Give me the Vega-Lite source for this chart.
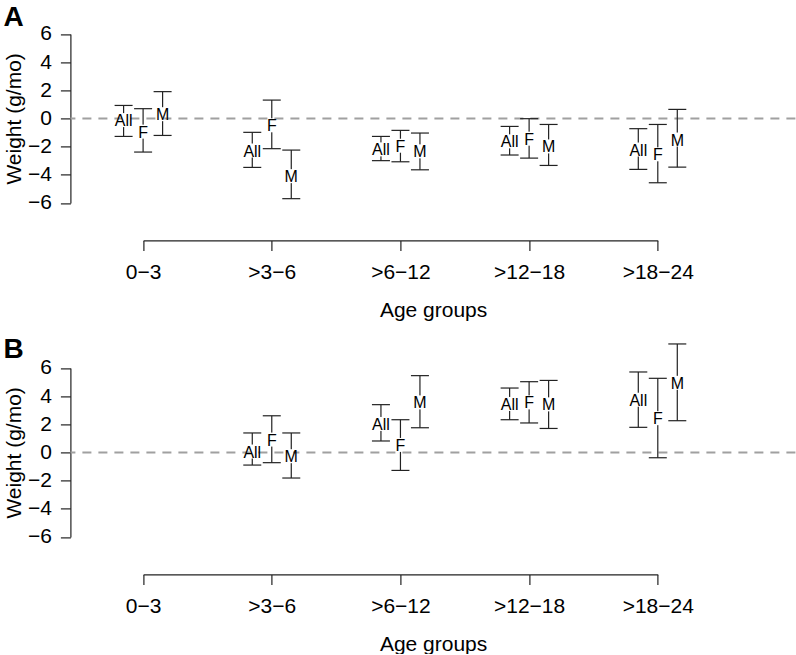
{
  "$schema": "https://vega.github.io/schema/vega-lite/v6.json",
  "autosize": {"type": "pad"},
  "padding": {"left": 3.4, "top": 4.4, "right": 0, "bottom": 0},
  "background": "white",
  "spacing": 16,
  "config": {
    "view": {"stroke": null},
    "font": "Liberation Sans",
    "axis": {
      "grid": false,
      "domainColor": "#222",
      "tickColor": "#222",
      "domainWidth": 1.2,
      "tickWidth": 1.2,
      "tickSize": 10,
      "labelFontSize": 21,
      "titleFontSize": 21,
      "titleFontWeight": "normal",
      "labelColor": "black",
      "titleColor": "black",
      "labelFont": "Liberation Sans",
      "titleFont": "Liberation Sans"
    },
    "axisY": {"labelOverlap": false, "domain": true, "ticks": true, "tickSize": 10, "labelPadding": 9, "titlePadding": 3, "domainColor": "#222", "tickColor": "#222"},
    "title": {"font": "Liberation Sans", "fontSize": 28, "fontWeight": "bold", "color": "black", "anchor": "start", "frame": "bounds"}
  },
  "datasets": {
    "A": [
      {"group": "0−3", "sex": "All", "lo": -1.28, "hi": 0.92, "est": -0.12},
      {"group": "0−3", "sex": "F", "lo": -2.39, "hi": 0.69, "est": -0.94},
      {"group": "0−3", "sex": "M", "lo": -1.21, "hi": 1.9, "est": 0.3},
      {"group": ">3−6", "sex": "All", "lo": -3.48, "hi": -0.99, "est": -2.28},
      {"group": ">3−6", "sex": "F", "lo": -2.15, "hi": 1.3, "est": -0.49},
      {"group": ">3−6", "sex": "M", "lo": -5.7, "hi": -2.25, "est": -4.1},
      {"group": ">6−12", "sex": "All", "lo": -3.0, "hi": -1.28, "est": -2.2},
      {"group": ">6−12", "sex": "F", "lo": -3.08, "hi": -0.85, "est": -1.94},
      {"group": ">6−12", "sex": "M", "lo": -3.65, "hi": -1.04, "est": -2.34},
      {"group": ">12−18", "sex": "All", "lo": -2.6, "hi": -0.57, "est": -1.63},
      {"group": ">12−18", "sex": "F", "lo": -2.82, "hi": -0.02, "est": -1.44},
      {"group": ">12−18", "sex": "M", "lo": -3.34, "hi": -0.43, "est": -1.99},
      {"group": ">18−24", "sex": "All", "lo": -3.62, "hi": -0.73, "est": -2.21},
      {"group": ">18−24", "sex": "F", "lo": -4.57, "hi": -0.43, "est": -2.55},
      {"group": ">18−24", "sex": "M", "lo": -3.46, "hi": 0.64, "est": -1.5}
    ],
    "B": [
      {"group": ">3−6", "sex": "All", "lo": -0.9, "hi": 1.38, "est": 0.06},
      {"group": ">3−6", "sex": "F", "lo": -0.73, "hi": 2.6, "est": 0.91},
      {"group": ">3−6", "sex": "M", "lo": -1.82, "hi": 1.38, "est": -0.27},
      {"group": ">6−12", "sex": "All", "lo": 0.81, "hi": 3.39, "est": 2.02},
      {"group": ">6−12", "sex": "F", "lo": -1.28, "hi": 2.32, "est": 0.53},
      {"group": ">6−12", "sex": "M", "lo": 1.75, "hi": 5.45, "est": 3.55},
      {"group": ">12−18", "sex": "All", "lo": 2.32, "hi": 4.57, "est": 3.44},
      {"group": ">12−18", "sex": "F", "lo": 2.09, "hi": 5.02, "est": 3.55},
      {"group": ">12−18", "sex": "M", "lo": 1.7, "hi": 5.11, "est": 3.41},
      {"group": ">18−24", "sex": "All", "lo": 1.78, "hi": 5.71, "est": 3.74},
      {"group": ">18−24", "sex": "F", "lo": -0.38, "hi": 5.26, "est": 2.43},
      {"group": ">18−24", "sex": "M", "lo": 2.25, "hi": 7.7, "est": 4.94}
    ],
    "zero": [{"y": 0}]
  },
  "vconcat": [
    {
      "title": {"text": "A", "offset": -13.1},
      "width": 725,
      "height": 221,
      "layer": [
        {
          "data": {"name": "zero"},
          "mark": {"type": "rule", "strokeDash": [9, 7], "color": "#a0a0a0", "strokeWidth": 2},
          "encoding": {
            "y": {"field": "y", "type": "quantitative", "title": "Weight (g/mo)",
              "scale": {"domain": [-6, 6], "range": [183.5, 14.5], "nice": false, "zero": false},
              "axis": {"values": [-6, -4, -2, 0, 2, 4, 6], "labelOverlap": false}}
          }
        },
        {
          "data": {"name": "A"},
          "mark": {"type": "rule", "color": "#222", "strokeWidth": 1.2},
          "encoding": {
            "x": {"field": "group", "type": "ordinal", "title": "Age groups",
              "scale": {"type": "point", "padding": 0, "domain": ["0−3", ">3−6", ">6−12", ">12−18", ">18−24"], "range": [72.7, 587.4]},
              "axis": {"labelAngle": 0, "labelPadding": 11, "titlePadding": 17, "titleX": 362.7}},
            "xOffset": {"field": "sex", "type": "nominal", "scale": {"type": "point", "domain": ["All", "F", "M"], "range": [-19.5, 19.5], "padding": 0}},
            "y": {"field": "lo", "type": "quantitative", "title": "Weight (g/mo)", "scale": {"domain": [-6, 6], "range": [183.5, 14.5], "nice": false, "zero": false}, "axis": {"values": [-6, -4, -2, 0, 2, 4, 6], "labelOverlap": false}},
            "y2": {"field": "hi"}
          }
        },
        {
          "data": {"name": "A"},
          "mark": {"type": "tick", "orient": "horizontal", "size": 18, "thickness": 1.2, "color": "#222", "opacity": 1},
          "encoding": {
            "x": {"field": "group", "type": "ordinal", "title": "Age groups", "scale": {"type": "point", "padding": 0, "domain": ["0−3", ">3−6", ">6−12", ">12−18", ">18−24"], "range": [72.7, 587.4]}, "axis": {"labelAngle": 0, "labelPadding": 11, "titlePadding": 17, "titleX": 362.7}},
            "xOffset": {"field": "sex", "type": "nominal", "scale": {"type": "point", "domain": ["All", "F", "M"], "range": [-19.5, 19.5], "padding": 0}},
            "y": {"field": "lo", "type": "quantitative", "title": "Weight (g/mo)", "scale": {"domain": [-6, 6], "range": [183.5, 14.5], "nice": false, "zero": false}, "axis": {"values": [-6, -4, -2, 0, 2, 4, 6], "labelOverlap": false}}
          }
        },
        {
          "data": {"name": "A"},
          "mark": {"type": "tick", "orient": "horizontal", "size": 18, "thickness": 1.2, "color": "#222", "opacity": 1},
          "encoding": {
            "x": {"field": "group", "type": "ordinal", "title": "Age groups", "scale": {"type": "point", "padding": 0, "domain": ["0−3", ">3−6", ">6−12", ">12−18", ">18−24"], "range": [72.7, 587.4]}, "axis": {"labelAngle": 0, "labelPadding": 11, "titlePadding": 17, "titleX": 362.7}},
            "xOffset": {"field": "sex", "type": "nominal", "scale": {"type": "point", "domain": ["All", "F", "M"], "range": [-19.5, 19.5], "padding": 0}},
            "y": {"field": "hi", "type": "quantitative", "title": "Weight (g/mo)", "scale": {"domain": [-6, 6], "range": [183.5, 14.5], "nice": false, "zero": false}, "axis": {"values": [-6, -4, -2, 0, 2, 4, 6], "labelOverlap": false}}
          }
        },
        {
          "data": {"name": "A"},
          "mark": {"type": "point", "shape": "M-0.25,-1L0.25,-1L0.25,1L-0.25,1Z", "filled": true, "color": "white", "opacity": 1, "size": 196, "strokeWidth": 0},
          "encoding": {
            "x": {"field": "group", "type": "ordinal", "title": "Age groups", "scale": {"type": "point", "padding": 0, "domain": ["0−3", ">3−6", ">6−12", ">12−18", ">18−24"], "range": [72.7, 587.4]}, "axis": {"labelAngle": 0, "labelPadding": 11, "titlePadding": 17, "titleX": 362.7}},
            "xOffset": {"field": "sex", "type": "nominal", "scale": {"type": "point", "domain": ["All", "F", "M"], "range": [-19.5, 19.5], "padding": 0}},
            "y": {"field": "est", "type": "quantitative", "title": "Weight (g/mo)", "scale": {"domain": [-6, 6], "range": [183.5, 14.5], "nice": false, "zero": false}, "axis": {"values": [-6, -4, -2, 0, 2, 4, 6], "labelOverlap": false}}
          }
        },
        {
          "data": {"name": "A"},
          "mark": {"type": "text", "fontSize": 16, "baseline": "middle", "align": "center", "color": "black", "dy": 1},
          "encoding": {
            "x": {"field": "group", "type": "ordinal", "title": "Age groups", "scale": {"type": "point", "padding": 0, "domain": ["0−3", ">3−6", ">6−12", ">12−18", ">18−24"], "range": [72.7, 587.4]}, "axis": {"labelAngle": 0, "labelPadding": 11, "titlePadding": 17, "titleX": 362.7}},
            "xOffset": {"field": "sex", "type": "nominal", "scale": {"type": "point", "domain": ["All", "F", "M"], "range": [-19.5, 19.5], "padding": 0}},
            "y": {"field": "est", "type": "quantitative", "title": "Weight (g/mo)", "scale": {"domain": [-6, 6], "range": [183.5, 14.5], "nice": false, "zero": false}, "axis": {"values": [-6, -4, -2, 0, 2, 4, 6], "labelOverlap": false}},
            "text": {"field": "sex"}
          }
        }
      ]
    },
    {
      "title": {"text": "B", "offset": -21.1},
      "width": 725,
      "height": 221,
      "layer": [
        {
          "data": {"name": "zero"},
          "mark": {"type": "rule", "strokeDash": [9, 7], "color": "#a0a0a0", "strokeWidth": 2},
          "encoding": {
            "y": {"field": "y", "type": "quantitative", "title": "Weight (g/mo)",
              "scale": {"domain": [-6, 6], "range": [183.5, 14.5], "nice": false, "zero": false},
              "axis": {"values": [-6, -4, -2, 0, 2, 4, 6], "labelOverlap": false}}
          }
        },
        {
          "data": {"name": "B"},
          "mark": {"type": "rule", "color": "#222", "strokeWidth": 1.2},
          "encoding": {
            "x": {"field": "group", "type": "ordinal", "title": "Age groups",
              "scale": {"type": "point", "padding": 0, "domain": ["0−3", ">3−6", ">6−12", ">12−18", ">18−24"], "range": [72.7, 587.4]},
              "axis": {"labelAngle": 0, "labelPadding": 11, "titlePadding": 17, "titleX": 362.7}},
            "xOffset": {"field": "sex", "type": "nominal", "scale": {"type": "point", "domain": ["All", "F", "M"], "range": [-19.5, 19.5], "padding": 0}},
            "y": {"field": "lo", "type": "quantitative", "title": "Weight (g/mo)", "scale": {"domain": [-6, 6], "range": [183.5, 14.5], "nice": false, "zero": false}, "axis": {"values": [-6, -4, -2, 0, 2, 4, 6], "labelOverlap": false}},
            "y2": {"field": "hi"}
          }
        },
        {
          "data": {"name": "B"},
          "mark": {"type": "tick", "orient": "horizontal", "size": 18, "thickness": 1.2, "color": "#222", "opacity": 1},
          "encoding": {
            "x": {"field": "group", "type": "ordinal", "title": "Age groups", "scale": {"type": "point", "padding": 0, "domain": ["0−3", ">3−6", ">6−12", ">12−18", ">18−24"], "range": [72.7, 587.4]}, "axis": {"labelAngle": 0, "labelPadding": 11, "titlePadding": 17, "titleX": 362.7}},
            "xOffset": {"field": "sex", "type": "nominal", "scale": {"type": "point", "domain": ["All", "F", "M"], "range": [-19.5, 19.5], "padding": 0}},
            "y": {"field": "lo", "type": "quantitative", "title": "Weight (g/mo)", "scale": {"domain": [-6, 6], "range": [183.5, 14.5], "nice": false, "zero": false}, "axis": {"values": [-6, -4, -2, 0, 2, 4, 6], "labelOverlap": false}}
          }
        },
        {
          "data": {"name": "B"},
          "mark": {"type": "tick", "orient": "horizontal", "size": 18, "thickness": 1.2, "color": "#222", "opacity": 1},
          "encoding": {
            "x": {"field": "group", "type": "ordinal", "title": "Age groups", "scale": {"type": "point", "padding": 0, "domain": ["0−3", ">3−6", ">6−12", ">12−18", ">18−24"], "range": [72.7, 587.4]}, "axis": {"labelAngle": 0, "labelPadding": 11, "titlePadding": 17, "titleX": 362.7}},
            "xOffset": {"field": "sex", "type": "nominal", "scale": {"type": "point", "domain": ["All", "F", "M"], "range": [-19.5, 19.5], "padding": 0}},
            "y": {"field": "hi", "type": "quantitative", "title": "Weight (g/mo)", "scale": {"domain": [-6, 6], "range": [183.5, 14.5], "nice": false, "zero": false}, "axis": {"values": [-6, -4, -2, 0, 2, 4, 6], "labelOverlap": false}}
          }
        },
        {
          "data": {"name": "B"},
          "mark": {"type": "point", "shape": "M-0.25,-1L0.25,-1L0.25,1L-0.25,1Z", "filled": true, "color": "white", "opacity": 1, "size": 196, "strokeWidth": 0},
          "encoding": {
            "x": {"field": "group", "type": "ordinal", "title": "Age groups", "scale": {"type": "point", "padding": 0, "domain": ["0−3", ">3−6", ">6−12", ">12−18", ">18−24"], "range": [72.7, 587.4]}, "axis": {"labelAngle": 0, "labelPadding": 11, "titlePadding": 17, "titleX": 362.7}},
            "xOffset": {"field": "sex", "type": "nominal", "scale": {"type": "point", "domain": ["All", "F", "M"], "range": [-19.5, 19.5], "padding": 0}},
            "y": {"field": "est", "type": "quantitative", "title": "Weight (g/mo)", "scale": {"domain": [-6, 6], "range": [183.5, 14.5], "nice": false, "zero": false}, "axis": {"values": [-6, -4, -2, 0, 2, 4, 6], "labelOverlap": false}}
          }
        },
        {
          "data": {"name": "B"},
          "mark": {"type": "text", "fontSize": 16, "baseline": "middle", "align": "center", "color": "black", "dy": 1},
          "encoding": {
            "x": {"field": "group", "type": "ordinal", "title": "Age groups", "scale": {"type": "point", "padding": 0, "domain": ["0−3", ">3−6", ">6−12", ">12−18", ">18−24"], "range": [72.7, 587.4]}, "axis": {"labelAngle": 0, "labelPadding": 11, "titlePadding": 17, "titleX": 362.7}},
            "xOffset": {"field": "sex", "type": "nominal", "scale": {"type": "point", "domain": ["All", "F", "M"], "range": [-19.5, 19.5], "padding": 0}},
            "y": {"field": "est", "type": "quantitative", "title": "Weight (g/mo)", "scale": {"domain": [-6, 6], "range": [183.5, 14.5], "nice": false, "zero": false}, "axis": {"values": [-6, -4, -2, 0, 2, 4, 6], "labelOverlap": false}},
            "text": {"field": "sex"}
          }
        }
      ]
    }
  ]
}
